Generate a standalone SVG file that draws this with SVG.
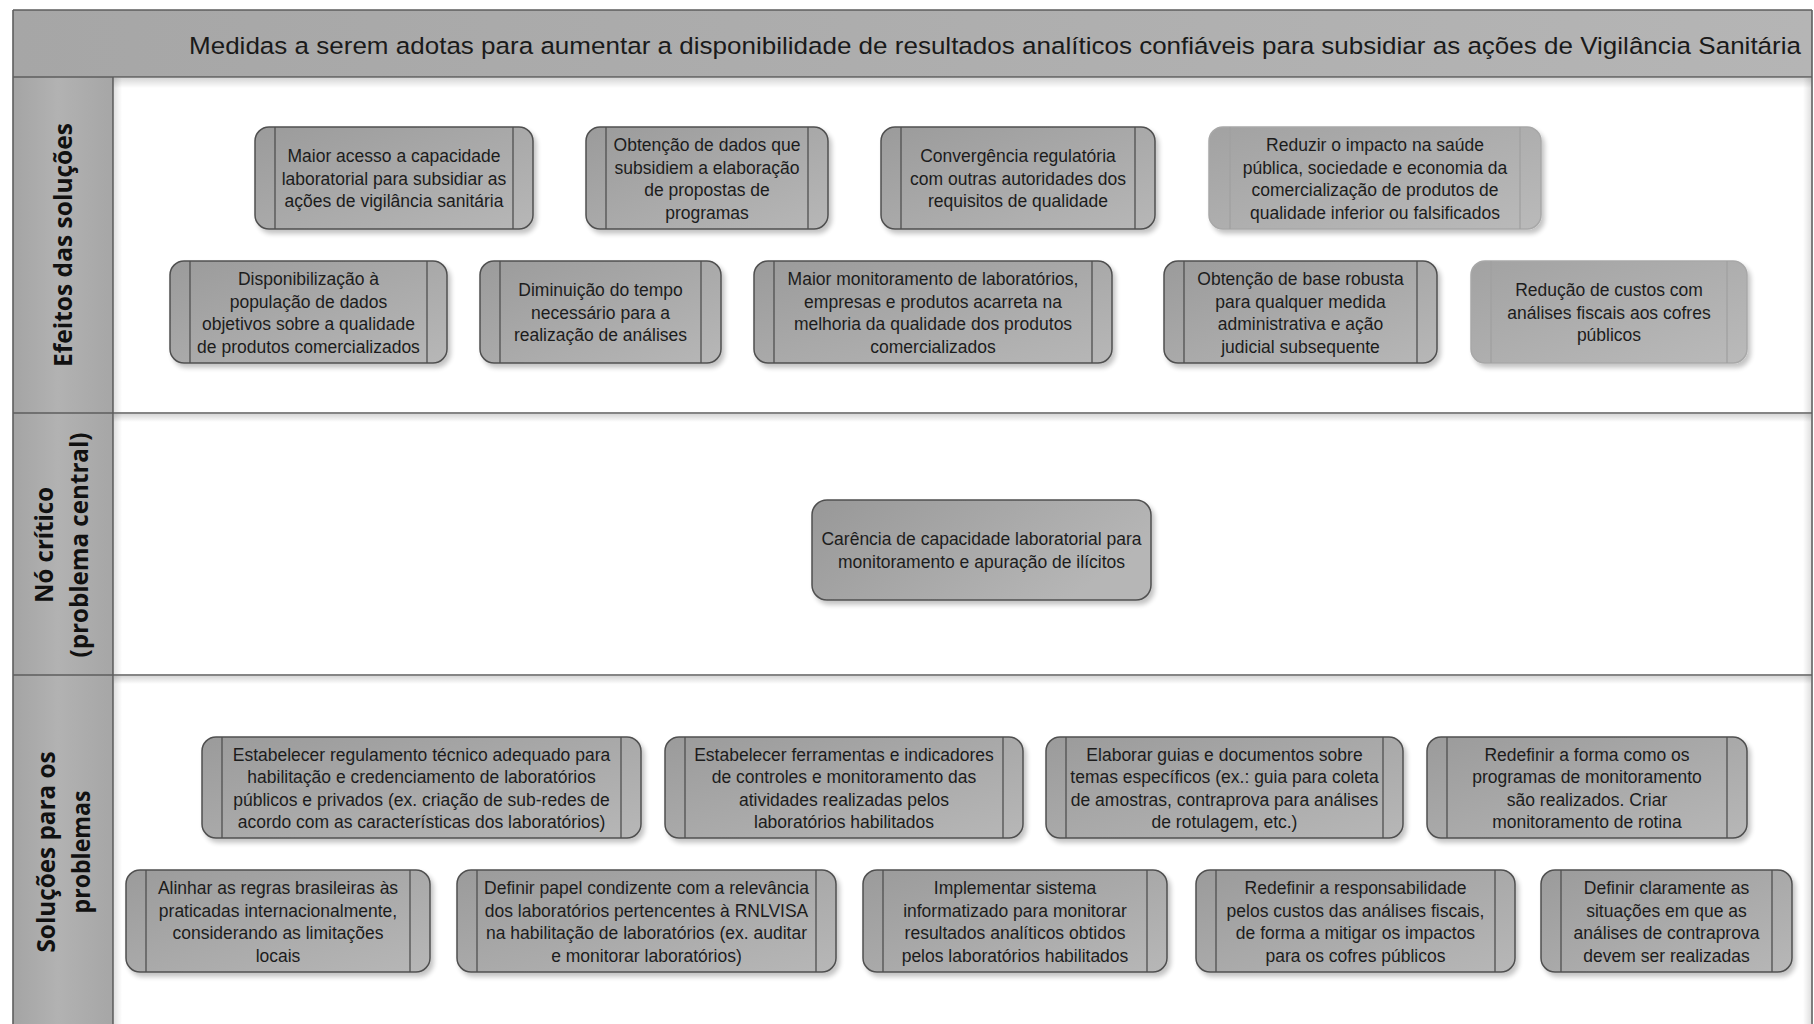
<svg xmlns="http://www.w3.org/2000/svg" width="1814" height="1024" viewBox="0 0 1814 1024">
  <defs>
    <linearGradient id="nodeFill" x1="0" y1="0" x2="1" y2="1">
      <stop offset="0" stop-color="#9b9b9b"/>
      <stop offset="1" stop-color="#b7b7b7"/>
    </linearGradient>
    <linearGradient id="nodeFillLight" x1="0" y1="0" x2="1" y2="1">
      <stop offset="0" stop-color="#a2a2a2"/>
      <stop offset="1" stop-color="#bababa"/>
    </linearGradient>
    <linearGradient id="centralFill" x1="0" y1="0" x2="1" y2="0.4">
      <stop offset="0" stop-color="#989898"/>
      <stop offset="1" stop-color="#b6b6b6"/>
    </linearGradient>
    <linearGradient id="titleFill" x1="0" y1="0" x2="1" y2="0">
      <stop offset="0" stop-color="#a6a6a6"/>
      <stop offset="1" stop-color="#b5b5b5"/>
    </linearGradient>
    <linearGradient id="laneHeadFill" x1="0" y1="0" x2="1" y2="0">
      <stop offset="0" stop-color="#a4a4a4"/>
      <stop offset="0.45" stop-color="#b2b2b2"/>
      <stop offset="1" stop-color="#a6a6a6"/>
    </linearGradient>
    <linearGradient id="shadeDown" x1="0" y1="0" x2="0" y2="1">
      <stop offset="0" stop-color="#000" stop-opacity="0.16"/>
      <stop offset="1" stop-color="#000" stop-opacity="0"/>
    </linearGradient>
    <linearGradient id="shadeRight" x1="0" y1="0" x2="1" y2="0">
      <stop offset="0" stop-color="#000" stop-opacity="0.12"/>
      <stop offset="1" stop-color="#000" stop-opacity="0"/>
    </linearGradient>
    <linearGradient id="shadeLeft" x1="1" y1="0" x2="0" y2="0">
      <stop offset="0" stop-color="#000" stop-opacity="0.12"/>
      <stop offset="1" stop-color="#000" stop-opacity="0"/>
    </linearGradient>
    <filter id="shadow" x="-10%" y="-10%" width="130%" height="140%">
      <feGaussianBlur in="SourceAlpha" stdDeviation="2.5"/>
      <feOffset dx="3" dy="4" result="off"/>
      <feComponentTransfer>
        <feFuncA type="linear" slope="0.24"/>
      </feComponentTransfer>
      <feMerge>
        <feMergeNode/>
        <feMergeNode in="SourceGraphic"/>
      </feMerge>
    </filter>
  </defs>
  <style>
    .frame { stroke:#5e5e5e; stroke-width:1.6; fill:none; }
    .box { fill:url(#nodeFill); stroke:#505050; stroke-width:1.5; filter:url(#shadow); }
    .bar { stroke:#505050; stroke-width:1.3; fill:none; }
    .light .box { fill:url(#nodeFillLight); stroke:#a8a8a8; }
    .light .bar { stroke:#a0a0a0; }
    .central { fill:url(#centralFill); stroke:#505050; stroke-width:1.5; filter:url(#shadow); }
    .nt { font-family:"Liberation Sans", Arial, sans-serif; font-size:17.5px; fill:#1c1c1c; text-anchor:middle; }
    .title { font-family:"Liberation Sans", Arial, sans-serif; font-size:24.5px; fill:#1a1a1a; }
    .lane { font-family:"Open Sans", "Liberation Sans", sans-serif; font-size:25px; font-weight:bold; fill:#111; text-anchor:middle; }
  </style>

  <rect width="1814" height="1024" fill="#fff"/>

  <!-- swimlane frame -->
  <g id="frame">
    <rect x="13" y="10" width="1799" height="67" fill="url(#titleFill)"/>
    <rect x="13" y="78" width="1799" height="10" fill="url(#shadeDown)"/>
    <rect x="13" y="77" width="100" height="336" fill="url(#laneHeadFill)"/>
    <rect x="13" y="413" width="100" height="262" fill="url(#laneHeadFill)"/>
    <rect x="13" y="675" width="100" height="349" fill="url(#laneHeadFill)"/>
    <rect x="114" y="78" width="8" height="946" fill="url(#shadeRight)"/>
    <rect x="114" y="414" width="1697" height="8" fill="url(#shadeDown)"/>
    <rect x="114" y="676" width="1697" height="8" fill="url(#shadeDown)"/>
    <rect x="1803" y="78" width="8" height="946" fill="url(#shadeLeft)"/>
    <path class="frame" d="M13 10 H1812 M13 10 V1024 M1812 10 V1024 M113 77 V1024 M13 413 H1812 M13 675 H1812"/>
    <path class="frame" d="M13 77 H1812" stroke-width="2.2"/>
    <text class="title" x="189" y="54" textLength="1612" lengthAdjust="spacingAndGlyphs">Medidas a serem adotas para aumentar a disponibilidade de resultados analíticos confiáveis para subsidiar as ações de Vigilância Sanitária</text>
    <text class="lane" transform="translate(72 245) rotate(-90)" textLength="244" lengthAdjust="spacingAndGlyphs">Efeitos das soluções</text>
    <text class="lane" transform="translate(53 545) rotate(-90)" textLength="116" lengthAdjust="spacingAndGlyphs">Nó crítico</text>
    <text class="lane" transform="translate(88 545) rotate(-90)" textLength="225" lengthAdjust="spacingAndGlyphs">(problema central)</text>
    <text class="lane" transform="translate(55 852) rotate(-90)" textLength="201" lengthAdjust="spacingAndGlyphs">Soluções para os</text>
    <text class="lane" transform="translate(90 852) rotate(-90)" textLength="123" lengthAdjust="spacingAndGlyphs">problemas</text>
  </g>

  <!-- effects, upper row -->
  <g id="n1">
    <rect class="box" x="255" y="127" width="278" height="102" rx="14"/>
    <path class="bar" d="M275 127 V229 M513 127 V229"/>
    <text class="nt"><tspan x="394" y="162">Maior acesso a capacidade</tspan><tspan x="394" y="184.5">laboratorial para subsidiar as</tspan><tspan x="394" y="207">ações de vigilância sanitária</tspan></text>
  </g>
  <g id="n2">
    <rect class="box" x="586" y="127" width="242" height="102" rx="14"/>
    <path class="bar" d="M606 127 V229 M808 127 V229"/>
    <text class="nt"><tspan x="707" y="151">Obtenção de dados que</tspan><tspan x="707" y="173.5">subsidiem a elaboração</tspan><tspan x="707" y="196">de propostas de</tspan><tspan x="707" y="218.5">programas</tspan></text>
  </g>
  <g id="n3">
    <rect class="box" x="881" y="127" width="274" height="102" rx="14"/>
    <path class="bar" d="M901 127 V229 M1135 127 V229"/>
    <text class="nt"><tspan x="1018" y="162">Convergência regulatória</tspan><tspan x="1018" y="184.5">com outras autoridades dos</tspan><tspan x="1018" y="207">requisitos de qualidade</tspan></text>
  </g>
  <g id="n4" class="light">
    <rect class="box" x="1209" y="127" width="332" height="102" rx="14"/>
    <path class="bar" d="M1230 127 V229 M1520 127 V229"/>
    <text class="nt"><tspan x="1375" y="151">Reduzir o impacto na saúde</tspan><tspan x="1375" y="173.5">pública, sociedade e economia da</tspan><tspan x="1375" y="196">comercialização de produtos de</tspan><tspan x="1375" y="218.5">qualidade inferior ou falsificados</tspan></text>
  </g>

  <!-- effects, lower row -->
  <g id="n5">
    <rect class="box" x="170" y="261" width="277" height="102" rx="14"/>
    <path class="bar" d="M190 261 V363 M427 261 V363"/>
    <text class="nt"><tspan x="308.5" y="285">Disponibilização à</tspan><tspan x="308.5" y="307.5">população de dados</tspan><tspan x="308.5" y="330">objetivos sobre a qualidade</tspan><tspan x="308.5" y="352.5">de produtos comercializados</tspan></text>
  </g>
  <g id="n6">
    <rect class="box" x="480" y="261" width="241" height="102" rx="14"/>
    <path class="bar" d="M500 261 V363 M701 261 V363"/>
    <text class="nt"><tspan x="600.5" y="296">Diminuição do tempo</tspan><tspan x="600.5" y="318.5">necessário para a</tspan><tspan x="600.5" y="341">realização de análises</tspan></text>
  </g>
  <g id="n7">
    <rect class="box" x="754" y="261" width="358" height="102" rx="14"/>
    <path class="bar" d="M774 261 V363 M1092 261 V363"/>
    <text class="nt"><tspan x="933" y="285">Maior monitoramento de laboratórios,</tspan><tspan x="933" y="307.5">empresas e produtos acarreta na</tspan><tspan x="933" y="330">melhoria da qualidade dos produtos</tspan><tspan x="933" y="352.5">comercializados</tspan></text>
  </g>
  <g id="n8">
    <rect class="box" x="1164" y="261" width="273" height="102" rx="14"/>
    <path class="bar" d="M1184 261 V363 M1417 261 V363"/>
    <text class="nt"><tspan x="1300.5" y="285">Obtenção de base robusta</tspan><tspan x="1300.5" y="307.5">para qualquer medida</tspan><tspan x="1300.5" y="330">administrativa e ação</tspan><tspan x="1300.5" y="352.5">judicial subsequente</tspan></text>
  </g>
  <g id="n9" class="light">
    <rect class="box" x="1471" y="261" width="276" height="102" rx="14"/>
    <path class="bar" d="M1491 261 V363 M1727 261 V363"/>
    <text class="nt"><tspan x="1609" y="296">Redução de custos com</tspan><tspan x="1609" y="318.5">análises fiscais aos cofres</tspan><tspan x="1609" y="341">públicos</tspan></text>
  </g>

  <!-- central problem -->
  <g id="central">
    <rect class="central" x="812" y="500" width="339" height="100" rx="15"/>
    <text class="nt"><tspan x="981.5" y="545">Carência de capacidade laboratorial para</tspan><tspan x="981.5" y="567.5">monitoramento e apuração de ilícitos</tspan></text>
  </g>

  <!-- solutions, upper row -->
  <g id="n10">
    <rect class="box" x="202" y="737" width="439" height="101" rx="14"/>
    <path class="bar" d="M222 737 V838 M621 737 V838"/>
    <text class="nt"><tspan x="421.5" y="760.5">Estabelecer regulamento técnico adequado para</tspan><tspan x="421.5" y="783">habilitação e credenciamento de laboratórios</tspan><tspan x="421.5" y="805.5">públicos e privados (ex. criação de sub-redes de</tspan><tspan x="421.5" y="828">acordo com as características dos laboratórios)</tspan></text>
  </g>
  <g id="n11">
    <rect class="box" x="665" y="737" width="358" height="101" rx="14"/>
    <path class="bar" d="M685 737 V838 M1003 737 V838"/>
    <text class="nt"><tspan x="844" y="760.5">Estabelecer ferramentas e indicadores</tspan><tspan x="844" y="783">de controles e monitoramento das</tspan><tspan x="844" y="805.5">atividades realizadas pelos</tspan><tspan x="844" y="828">laboratórios habilitados</tspan></text>
  </g>
  <g id="n12">
    <rect class="box" x="1046" y="737" width="357" height="101" rx="14"/>
    <path class="bar" d="M1066 737 V838 M1383 737 V838"/>
    <text class="nt"><tspan x="1224.5" y="760.5">Elaborar guias e documentos sobre</tspan><tspan x="1224.5" y="783">temas específicos (ex.: guia para coleta</tspan><tspan x="1224.5" y="805.5">de amostras, contraprova para análises</tspan><tspan x="1224.5" y="828">de rotulagem, etc.)</tspan></text>
  </g>
  <g id="n13">
    <rect class="box" x="1427" y="737" width="320" height="101" rx="14"/>
    <path class="bar" d="M1447 737 V838 M1727 737 V838"/>
    <text class="nt"><tspan x="1587" y="760.5">Redefinir a forma como os</tspan><tspan x="1587" y="783">programas de monitoramento</tspan><tspan x="1587" y="805.5">são realizados. Criar</tspan><tspan x="1587" y="828">monitoramento de rotina</tspan></text>
  </g>

  <!-- solutions, lower row -->
  <g id="n14">
    <rect class="box" x="126" y="870" width="304" height="102" rx="14"/>
    <path class="bar" d="M146 870 V972 M410 870 V972"/>
    <text class="nt"><tspan x="278" y="894">Alinhar as regras brasileiras às</tspan><tspan x="278" y="916.5">praticadas internacionalmente,</tspan><tspan x="278" y="939">considerando as limitações</tspan><tspan x="278" y="961.5">locais</tspan></text>
  </g>
  <g id="n15">
    <rect class="box" x="457" y="870" width="379" height="102" rx="14"/>
    <path class="bar" d="M477 870 V972 M816 870 V972"/>
    <text class="nt"><tspan x="646.5" y="894">Definir papel condizente com a relevância</tspan><tspan x="646.5" y="916.5">dos laboratórios pertencentes à RNLVISA</tspan><tspan x="646.5" y="939">na habilitação de laboratórios (ex. auditar</tspan><tspan x="646.5" y="961.5">e monitorar laboratórios)</tspan></text>
  </g>
  <g id="n16">
    <rect class="box" x="863" y="870" width="304" height="102" rx="14"/>
    <path class="bar" d="M883 870 V972 M1147 870 V972"/>
    <text class="nt"><tspan x="1015" y="894">Implementar sistema</tspan><tspan x="1015" y="916.5">informatizado para monitorar</tspan><tspan x="1015" y="939">resultados analíticos obtidos</tspan><tspan x="1015" y="961.5">pelos laboratórios habilitados</tspan></text>
  </g>
  <g id="n17">
    <rect class="box" x="1196" y="870" width="319" height="102" rx="14"/>
    <path class="bar" d="M1216 870 V972 M1495 870 V972"/>
    <text class="nt"><tspan x="1355.5" y="894">Redefinir a responsabilidade</tspan><tspan x="1355.5" y="916.5">pelos custos das análises fiscais,</tspan><tspan x="1355.5" y="939">de forma a mitigar os impactos</tspan><tspan x="1355.5" y="961.5">para os cofres públicos</tspan></text>
  </g>
  <g id="n18">
    <rect class="box" x="1541" y="870" width="251" height="102" rx="14"/>
    <path class="bar" d="M1561 870 V972 M1772 870 V972"/>
    <text class="nt"><tspan x="1666.5" y="894">Definir claramente as</tspan><tspan x="1666.5" y="916.5">situações em que as</tspan><tspan x="1666.5" y="939">análises de contraprova</tspan><tspan x="1666.5" y="961.5">devem ser realizadas</tspan></text>
  </g>

  <!-- no links are drawn between the boxes -->
  <g id="connectors"/>
</svg>
